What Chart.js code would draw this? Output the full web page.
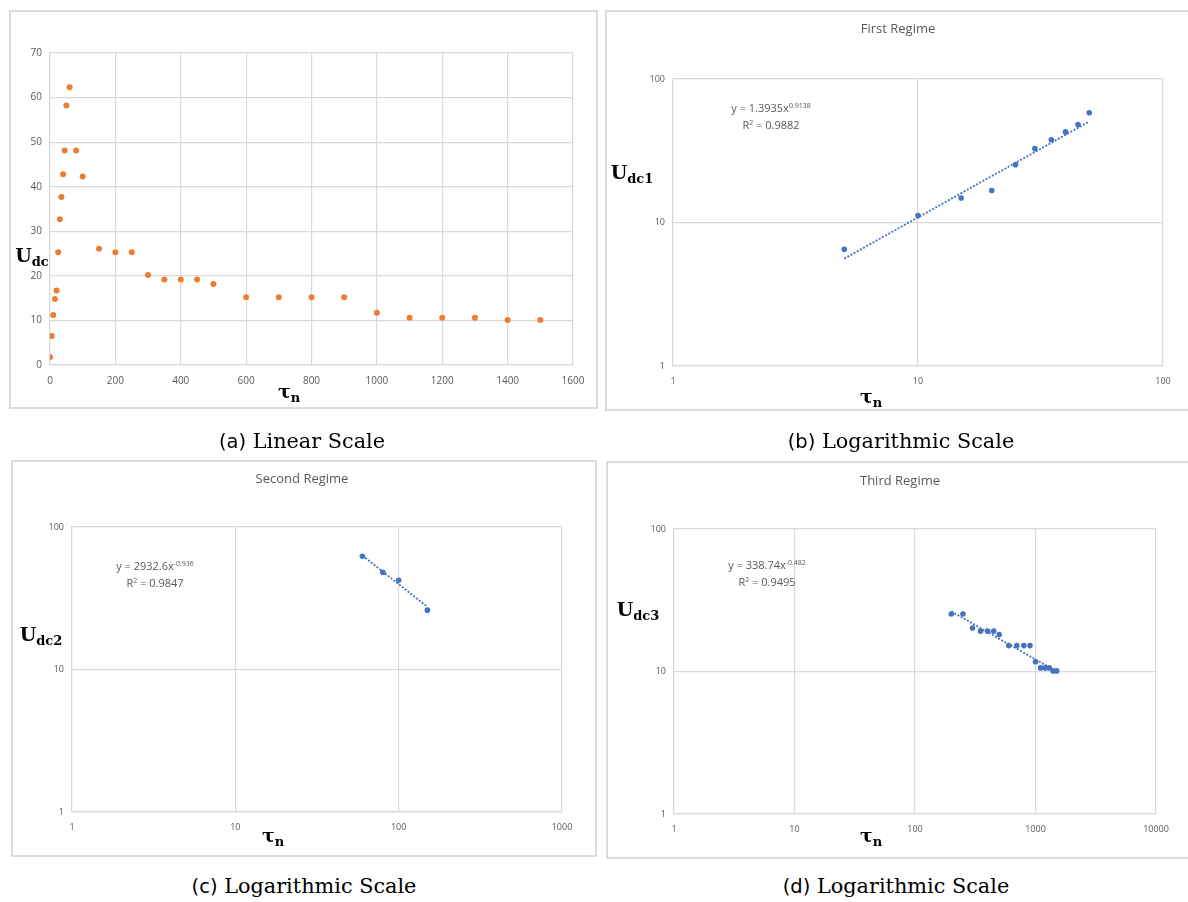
<!DOCTYPE html>
<html>
<head>
<meta charset="utf-8">
<script src="https://cdn.jsdelivr.net/npm/chart.js@4.4.1/dist/chart.umd.min.js"></script>
<style>
  body { margin: 0; width: 1188px; height: 902px; background: #fff; position: relative; overflow: hidden; }
  .frame { position: absolute; border: 2px solid #dcdcdc; box-sizing: border-box; }
  canvas { position: absolute; }
  .t { position: absolute; white-space: nowrap; transform: translate(-50%, -50%); }
  .title { font: 13px "Open Sans", sans-serif; color: #595959; }
  .eq { font: 11px "Open Sans", sans-serif; color: #595959; text-align: center; line-height: 17px; }
  .eq sup { font-size: 7px; vertical-align: 4px; line-height: 0; }
  .ax { font: bold 19px "DejaVu Serif", serif; color: #000; }
  .ax sub { font-size: 13px; vertical-align: -4px; line-height: 0; }
  .cap { font: 20.8px "DejaVu Serif", serif; color: #000; }
  .cap .lab { font-family: "DejaVu Sans", sans-serif; font-size: 19.5px; }
</style>
</head>
<body>

<div class="frame" style="left:9px;top:10px;width:589px;height:399px"></div>
<div class="frame" style="left:605px;top:10px;width:590px;height:401px"></div>
<div class="frame" style="left:11px;top:460px;width:586px;height:397px"></div>
<div class="frame" style="left:606px;top:461px;width:590px;height:398px"></div>

<canvas id="chartA"></canvas>
<canvas id="chartB"></canvas>
<canvas id="chartC"></canvas>
<canvas id="chartD"></canvas>

<!-- chart titles -->
<div class="t title" style="left:898px;top:28px">First Regime</div>
<div class="t title" style="left:302px;top:478px">Second Regime</div>
<div class="t title" style="left:900px;top:480px">Third Regime</div>

<!-- trendline equations -->
<div class="t eq" style="left:771px;top:116px">y = 1.3935x<sup>0.9138</sup><br>R<sup>2</sup> = 0.9882</div>
<div class="t eq" style="left:155px;top:574px">y = 2932.6x<sup>-0.936</sup><br>R<sup>2</sup> = 0.9847</div>
<div class="t eq" style="left:767px;top:573px">y = 338.74x<sup>-0.482</sup><br>R<sup>2</sup> = 0.9495</div>

<!-- axis titles -->
<div class="t ax" style="left:32px;top:255px">U<sub>dc</sub></div>
<div class="t ax" style="left:289px;top:391px">τ<sub>n</sub></div>
<div class="t ax" style="left:632px;top:172px">U<sub>dc1</sub></div>
<div class="t ax" style="left:871px;top:396px">τ<sub>n</sub></div>
<div class="t ax" style="left:41px;top:634px">U<sub>dc2</sub></div>
<div class="t ax" style="left:273px;top:835px">τ<sub>n</sub></div>
<div class="t ax" style="left:638px;top:609px">U<sub>dc3</sub></div>
<div class="t ax" style="left:871px;top:835px">τ<sub>n</sub></div>

<!-- captions -->
<div class="t cap" style="left:302px;top:441px"><span class="lab">(a)</span> Linear Scale</div>
<div class="t cap" style="left:901px;top:441px"><span class="lab">(b)</span> Logarithmic Scale</div>
<div class="t cap" style="left:304px;top:886px"><span class="lab">(c)</span> Logarithmic Scale</div>
<div class="t cap" style="left:896px;top:886px"><span class="lab">(d)</span> Logarithmic Scale</div>

<script>
// (a) all measurements, linear axes
const tauAll = [0, 5, 10, 15, 20, 25, 30, 35, 40, 45, 50, 60, 80, 100, 150, 200, 250, 300, 350, 400,
                450, 500, 600, 700, 800, 900, 1000, 1100, 1200, 1300, 1400, 1500]
const udcAll = [1.8, 6.5, 11.2, 14.8, 16.7, 25.3, 32.7, 37.7, 42.8, 48.1, 58.2, 62.3, 48.1, 42.3, 26.1, 25.3,
                25.3, 20.2, 19.2, 19.2, 19.2, 18.2, 15.2, 15.2, 15.2, 15.2, 11.7, 10.6, 10.6, 10.6, 10.1, 10.1]

// (b) first regime
const tau1 = [5, 10, 15, 20, 25, 30, 35, 40, 45, 50]
const udc1 = [6.5, 11.2, 14.8, 16.7, 25.3, 32.7, 37.7, 42.8, 48.1, 58.2]
const trend1X = [5, 50]
const trend1Y = [5.6, 50.5]

// (c) second regime
const tau2 = [60, 80, 100, 150]
const udc2 = [62.3, 48.1, 42.3, 26.1]
const trend2X = [60, 150]
const trend2Y = [63, 27.5]

// (d) third regime
const tau3 = [200, 250, 300, 350, 400, 450, 500, 600, 700, 800, 900, 1000, 1100, 1200, 1300, 1400, 1500]
const udc3 = [25.3, 25.3, 20.2, 19.2, 19.2, 19.2, 18.2, 15.2, 15.2, 15.2, 15.2, 11.7, 10.6, 10.6, 10.6, 10.1, 10.1]
const trend3X = [200, 1500]
const trend3Y = [26.4, 10]

// tick labels
const ticksAx = [0, 200, 400, 600, 800, 1000, 1200, 1400, 1600]
const ticksAy = [0, 10, 20, 30, 40, 50, 60, 70]
const ticksBx = [1, 10, 100]
const ticksCx = [1, 10, 100, 1000]
const ticksDx = [1, 10, 100, 1000, 10000]
const ticksLogY = [1, 10, 100]

const GRID = '#d9d9d9'
const TICK = '#595959'
const ORANGE = '#ED7D31'
const BLUE = '#4472C4'
const Y_W = 34
const X_H = 28

function pts(xs, ys) {
  return xs.map((x, i) => ({ x: x, y: ys[i] }))
}

function axis(type, ticks, fontSize, extra) {
  return Object.assign({
    type: type,
    min: ticks[0],
    max: ticks[ticks.length - 1],
    afterBuildTicks: s => { s.ticks = ticks.map(v => ({ value: v })) },
    grid: { color: GRID, lineWidth: 1.2, drawTicks: false },
    border: { color: GRID, width: 1.2 },
    ticks: {
      autoSkip: false,
      maxRotation: 0,
      color: TICK,
      font: { family: 'Open Sans', size: fontSize },
      callback: v => String(v)
    }
  }, extra || {})
}

// box = [left, top, width, height] of the canvas, plot = [left, top, right, bottom] of plot area (page px)
function makeChart(id, box, plot, xAxis, yAxis, datasets) {
  const cv = document.getElementById(id)
  cv.width = box[2]
  cv.height = box[3]
  cv.style.left = box[0] + 'px'
  cv.style.top = box[1] + 'px'

  xAxis.afterFit = s => { s.height = X_H }
  yAxis.afterFit = s => { s.width = Y_W }
  xAxis.ticks.padding = 10
  yAxis.ticks.padding = 8

  return new Chart(cv, {
    type: 'scatter',
    data: { datasets: datasets },
    options: {
      responsive: false,
      animation: false,
      layout: {
        padding: {
          left: plot[0] - box[0] - Y_W,
          top: plot[1] - box[1],
          right: box[0] + box[2] - plot[2],
          bottom: box[1] + box[3] - plot[3] - X_H
        }
      },
      plugins: { legend: { display: false }, tooltip: { enabled: false } },
      scales: { x: xAxis, y: yAxis }
    }
  })
}

function dots(xs, ys, color, r) {
  return {
    data: pts(xs, ys),
    backgroundColor: color,
    borderColor: color,
    borderWidth: 0,
    pointRadius: r,
    order: 1
  }
}

function trend(xs, ys) {
  return {
    type: 'line',
    data: pts(xs, ys),
    borderColor: BLUE,
    borderWidth: 1.8,
    borderDash: [2, 1.6],
    pointRadius: 0,
    fill: false,
    order: 2
  }
}

makeChart('chartA', [11, 12, 585, 395], [50, 53, 573, 365],
  axis('linear', ticksAx, 10),
  axis('linear', ticksAy, 10),
  [dots(tauAll, udcAll, ORANGE, 3)])

makeChart('chartB', [607, 12, 579, 397], [673, 79, 1163, 366],
  axis('logarithmic', ticksBx, 9),
  axis('logarithmic', ticksLogY, 9),
  [dots(tau1, udc1, BLUE, 2.8), trend(trend1X, trend1Y)])

makeChart('chartC', [13, 462, 582, 393], [72, 527, 562, 812],
  axis('logarithmic', ticksCx, 9),
  axis('logarithmic', ticksLogY, 9),
  [dots(tau2, udc2, BLUE, 2.8), trend(trend2X, trend2Y)])

makeChart('chartD', [608, 463, 578, 394], [674, 529, 1156, 814],
  axis('logarithmic', ticksDx, 9),
  axis('logarithmic', ticksLogY, 9),
  [dots(tau3, udc3, BLUE, 2.8), trend(trend3X, trend3Y)])
</script>
</body>
</html>
